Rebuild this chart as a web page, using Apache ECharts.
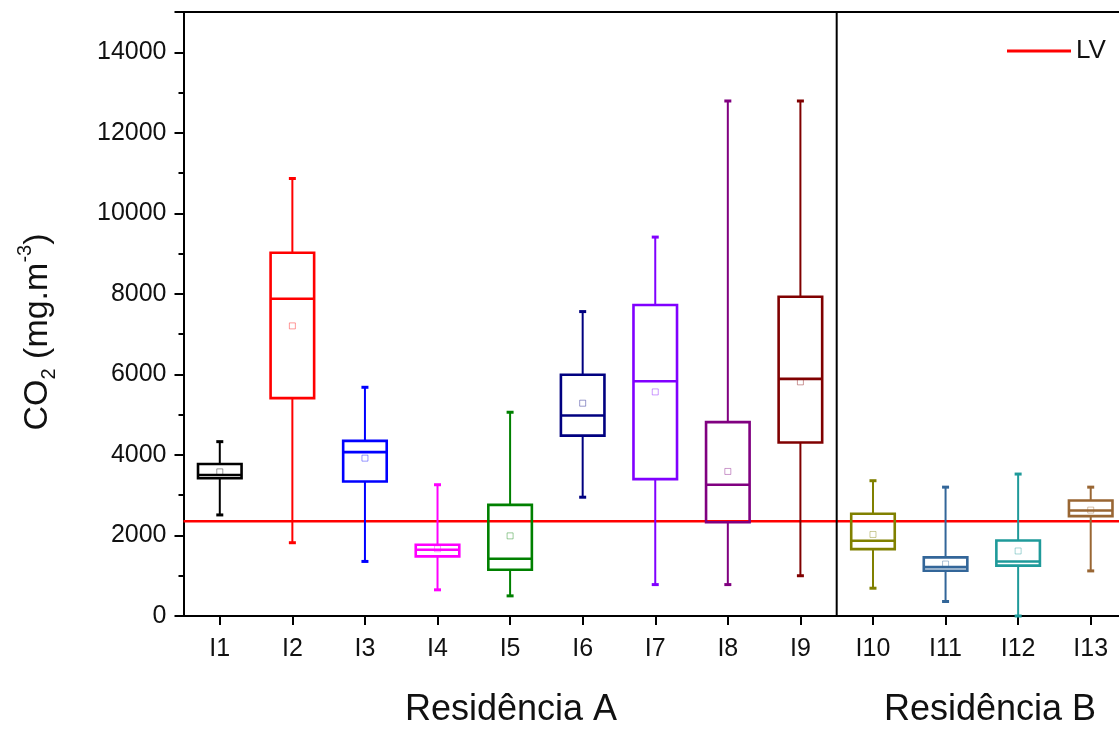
<!DOCTYPE html>
<html>
<head>
<meta charset="utf-8">
<script src="https://cdn.jsdelivr.net/npm/echarts@6/dist/echarts.min.js"></script>
<style>
  html, body { margin: 0; padding: 0; overflow: hidden; background: #fff; }
  #chart { width: 1127px; height: 732px; }
</style>
</head>
<body>
<div id="chart"></div>
<script>
// indoor CO2 per room, two houses
var rooms = ["I1", "I2", "I3", "I4", "I5", "I6", "I7", "I8", "I9", "I10", "I11", "I12", "I13"];
var whiskerLow = [2510, 1820, 1355, 650, 500, 2950, 780, 780, 1000, 690, 360, 0, 1120];
var q1 = [3420, 5410, 3340, 1480, 1150, 4480, 3400, 2330, 4310, 1660, 1125, 1250, 2480];
var median = [3500, 7880, 4070, 1645, 1420, 4980, 5830, 3260, 5890, 1870, 1215, 1355, 2620];
var q3 = [3775, 9020, 4350, 1770, 2760, 5990, 7725, 4815, 7930, 2540, 1455, 1875, 2870];
var whiskerHigh = [4330, 10865, 5680, 3260, 5060, 7560, 9410, 12790, 12790, 3360, 3200, 3525, 3200];
var mean = [3580, 7205, 3920, 1670, 1990, 5285, 5565, 3590, 5815, 2025, 1290, 1615, 2630];
var limitValue = 2350;   // LV
var houseSplit = 9;      // rooms I1..I9 = Residência A

var colors = ["#000000", "#ff0000", "#0000ff", "#ff00ff", "#008000", "#000080", "#8000ff",
  "#800080", "#800000", "#808000", "#336699", "#1f9a9a", "#996633"];
var meanColors = ["rgba(0,0,0,0.5)", "rgba(255,0,0,0.5)", "rgba(0,0,255,0.5)", "rgba(255,0,255,0.5)",
  "rgba(0,128,0,0.5)", "rgba(0,0,128,0.5)", "rgba(128,0,255,0.5)", "rgba(128,0,128,0.5)",
  "rgba(128,0,0,0.5)", "rgba(128,128,0,0.5)", "rgba(51,102,153,0.5)", "rgba(31,154,154,0.5)",
  "rgba(153,102,51,0.5)"];

var font = "Liberation Sans";

var boxData = rooms.map(function (r, i) {
  return [i, whiskerLow[i], q1[i], median[i], q3[i], whiskerHigh[i]];
});
var meanData = rooms.map(function (r, i) {
  return {
    value: [i, mean[i]],
    itemStyle: { color: "transparent", borderColor: meanColors[i], borderWidth: 1 }
  };
});

function renderBox(params, api) {
  var idx = api.value(0);
  var c = colors[idx];
  var pLo = api.coord([idx, api.value(1)]);
  var pQ1 = api.coord([idx, api.value(2)]);
  var pMed = api.coord([idx, api.value(3)]);
  var pQ3 = api.coord([idx, api.value(4)]);
  var pHi = api.coord([idx, api.value(5)]);
  var half = api.size([1, 0])[0] * 0.3;
  var x = pMed[0];
  var cap = 3.5;
  var wStyle = { stroke: c, lineWidth: 2 };
  var bStyle = { stroke: c, lineWidth: 2.6, fill: null };
  return {
    type: "group",
    children: [
      { type: "line", shape: { x1: x, y1: pHi[1], x2: x, y2: pQ3[1] }, style: wStyle },
      { type: "line", shape: { x1: x, y1: pQ1[1], x2: x, y2: pLo[1] }, style: wStyle },
      { type: "line", shape: { x1: x - cap, y1: pHi[1], x2: x + cap, y2: pHi[1] }, style: { stroke: c, lineWidth: 3 } },
      { type: "line", shape: { x1: x - cap, y1: pLo[1], x2: x + cap, y2: pLo[1] }, style: { stroke: c, lineWidth: 3 } },
      { type: "rect", shape: { x: x - half, y: pQ3[1], width: half * 2, height: pQ1[1] - pQ3[1] }, style: bStyle },
      { type: "line", shape: { x1: x - half, y1: pMed[1], x2: x + half, y2: pMed[1] }, style: { stroke: c, lineWidth: 2.6 } }
    ]
  };
}

var chart = echarts.init(document.getElementById("chart"));
chart.setOption({
  animation: false,
  backgroundColor: "#fff",
  grid: { left: 183.5, right: 0, top: 12, bottom: 116 },
  legend: {
    data: ["LV"],
    left: 1002,
    top: 33,
    icon: "rect",
    itemWidth: 64,
    itemHeight: 3,
    textStyle: { fontFamily: font, fontSize: 26, color: "#111" }
  },
  xAxis: [
    {
      type: "category",
      data: rooms,
      position: "bottom",
      axisLine: { show: true, lineStyle: { color: "#000", width: 2 } },
      axisTick: { show: true, alignWithLabel: true, length: 9, lineStyle: { color: "#000", width: 2 } },
      axisLabel: { fontFamily: font, fontSize: 25, color: "#111", margin: 21 },
      splitLine: { show: false }
    },
    {
      type: "value",
      min: 0,
      max: rooms.length,
      position: "top",
      axisLine: { show: true, onZero: false, lineStyle: { color: "#000", width: 2 } },
      axisTick: { show: false },
      axisLabel: { show: false },
      splitLine: { show: false }
    }
  ],
  yAxis: {
    type: "value",
    min: 0,
    max: 15000,
    interval: 2000,
    name: "{t|CO}{s|2}{t| (mg.m}{p|-3}{t|)}",
    nameLocation: "middle",
    nameRotate: 90,
    nameGap: 124,
    nameTextStyle: {
      padding: [0, 36, 0, 0],
      rich: {
        t: { fontFamily: font, fontSize: 34, color: "#111", lineHeight: 44 },
        s: { fontFamily: font, fontSize: 20, color: "#111", lineHeight: 20, verticalAlign: "bottom" },
        p: { fontFamily: font, fontSize: 20, color: "#111", lineHeight: 20, verticalAlign: "top" }
      }
    },
    axisLine: { show: true, lineStyle: { color: "#000", width: 2 } },
    axisTick: { show: true, length: 9, lineStyle: { color: "#000", width: 2 } },
    minorTick: { show: true, splitNumber: 2, length: 5, lineStyle: { color: "#000", width: 2 } },
    axisLabel: {
      fontFamily: font, fontSize: 25, color: "#111", margin: 17, showMaxLabel: false,
      formatter: function (v) { return String(v); }
    },
    splitLine: { show: false }
  },
  graphic: [
    { type: "text", left: 405, top: 692, style: { text: "Residência A", font: "36px " + font, fill: "#111" } },
    { type: "text", left: 884, top: 692, style: { text: "Residência B", font: "36px " + font, fill: "#111" } }
  ],
  series: [
    {
      name: "LV",
      type: "line",
      xAxisIndex: 1,
      data: [[0, limitValue], [rooms.length, limitValue]],
      showSymbol: false,
      silent: true,
      z: 1,
      itemStyle: { color: "#ff0000" },
      lineStyle: { color: "#ff0000", width: 2.5 }
    },
    {
      name: "split",
      type: "line",
      xAxisIndex: 1,
      data: [[houseSplit, 0], [houseSplit, 15000]],
      showSymbol: false,
      silent: true,
      itemStyle: { color: "#000" },
      lineStyle: { color: "#000", width: 2 }
    },
    {
      name: "boxes",
      type: "custom",
      xAxisIndex: 0,
      data: boxData,
      renderItem: renderBox,
      z: 3
    },
    {
      name: "mean",
      type: "scatter",
      xAxisIndex: 0,
      symbol: "rect",
      symbolSize: 6,
      data: meanData,
      z: 4
    }
  ]
});
</script>
</body>
</html>
